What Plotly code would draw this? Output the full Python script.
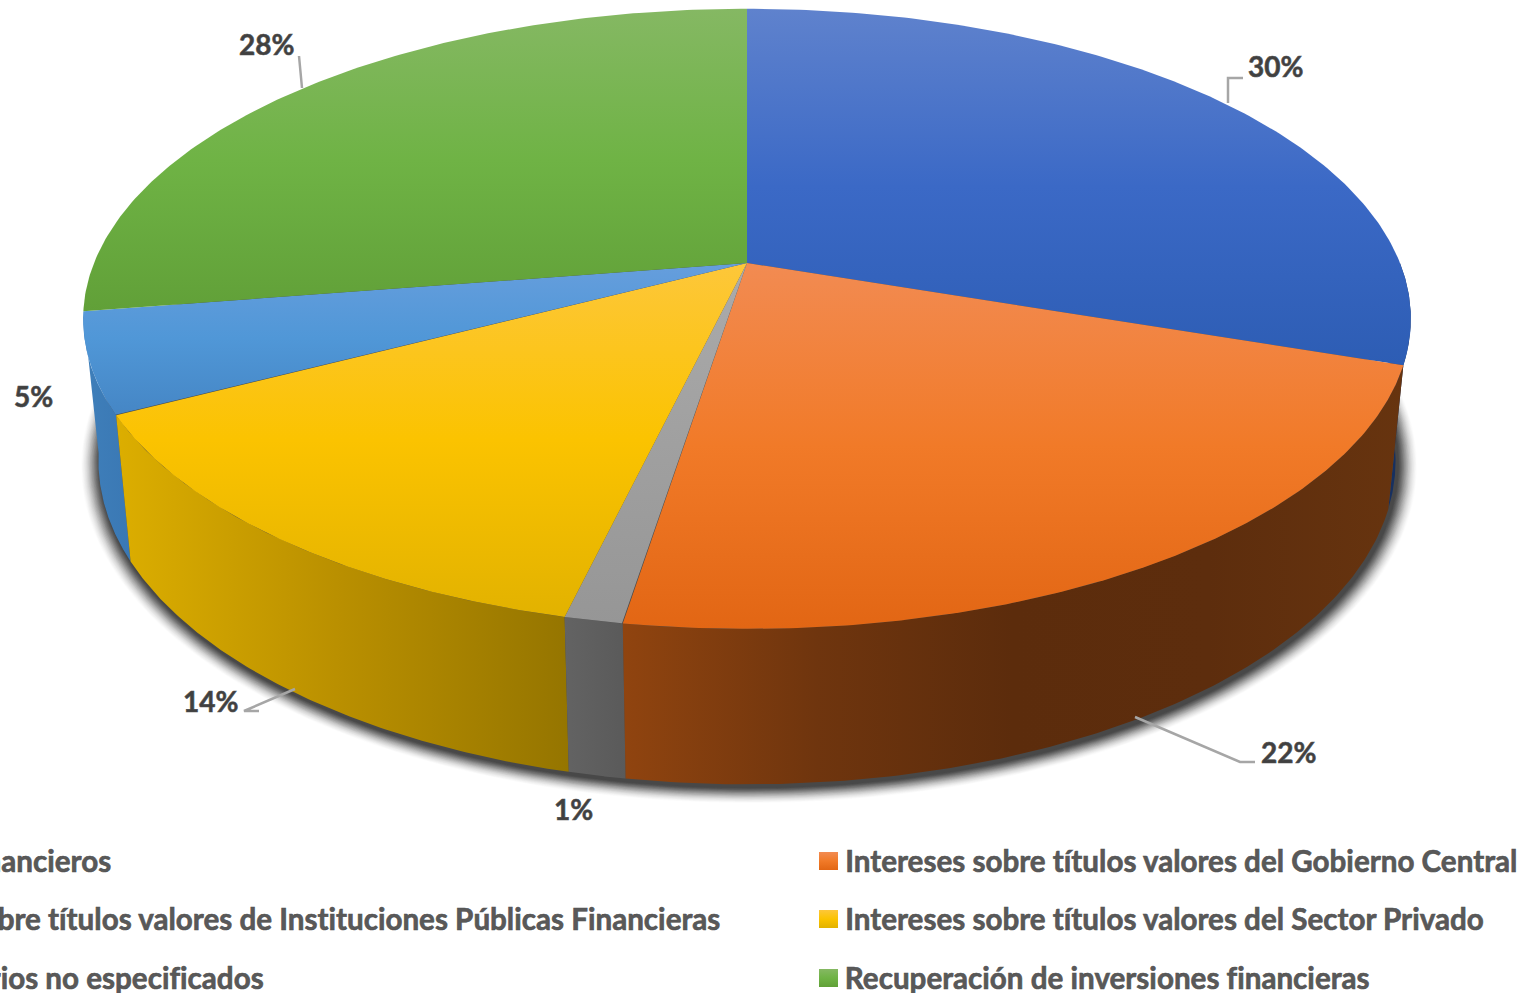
import numpy as np
import plotly.graph_objects as go

categories = [
    "Intereses por depósitos financieros",
    "Intereses sobre títulos valores del Gobierno Central",
    "Intereses sobre títulos valores de Instituciones Públicas Financieras",
    "Intereses sobre títulos valores del Sector Privado",
    "Ingresos financieros varios no especificados",
    "Recuperación de inversiones financieras",
]
values = [30.2, 22.3, 1.2, 13.6, 5.2, 27.5]
top_scales = [
    ["#5f82cd", "#3b69c6", "#2d5db4"],
    ["#f28b52", "#f17a28", "#e26614"],
    ["#ababab", "#a0a0a0", "#969696"],
    ["#fdc73a", "#fbc300", "#e2b200"],
    ["#669edd", "#5097d7", "#4586c5"],
    ["#85b863", "#6fb345", "#61a038"],
]
wall_scales = [
    ["#17305f", "#17305f"],
    ["#90440f", "#6f350e", "#5c2c0c", "#5d2d0d", "#67340f"],
    ["#636363", "#5a5a5a"],
    ["#dcae00", "#b98f00", "#957500"],
    ["#3f7fba", "#3a78b4"],
]
label_xy = [(1275, 66), (1288, 752), (573, 809), (210, 701), (33, 396), (266, 44)]
leaders = [
    ([1228, 1228, 1243], [103, 78, 78]),
    ([1135, 1240, 1255], [717, 762, 762]),
    ([259, 244, 295], [711, 711, 689]),
    ([302, 299], [88, 56]),
]

CX, Y0, A, B, K = 747.0, 263.0, 653.0, 300.0, 0.18
A2, Y2, B2 = 638.0, 402.6, 313.0


def rim(theta, a, y0, b):
    s, c = np.sin(theta), np.cos(theta)
    d = 1 + K * c
    return CX + a * s / d, y0 - b * c / d


def scale(colors):
    return [[i / (len(colors) - 1), col] for i, col in enumerate(colors)]


fig = go.Figure()


def poly(x, y, colors=None, kind="vertical", flat=None):
    kw = dict(fillcolor=flat) if flat else dict(
        fillgradient=dict(type=kind, colorscale=scale(colors)))
    fig.add_trace(go.Scatter(x=list(x) + [x[0]], y=list(y) + [y[0]], mode="lines",
                             line=dict(width=0), fill="toself", hoverinfo="skip",
                             showlegend=False, **kw))


# soft shadow beneath the disc: many faint layers, denser toward the wall
full = np.linspace(0, 2 * np.pi, 361)
layers = 28
for n in range(layers):
    f = 1 - n / (layers - 1)
    grow = 1 + 18 * f
    alpha = 0.012 + 0.11 * (1 - f) ** 1.6
    sx, sy = rim(full, A2 + grow, Y2 + 3, B2 + grow * 0.68)
    poly(sx + 2, sy, flat=f"rgba(30,30,30,{alpha:.3f})")

edges = 2 * np.pi * np.concatenate([[0], np.cumsum(values)]) / sum(values)

# walls, back to front (the last slice's wall lies behind the front of the disc)
for i in [0, 4, 3, 2, 1]:
    lo, hi = max(edges[i], np.pi / 2), min(edges[i + 1], 3 * np.pi / 2)
    t = np.linspace(lo, hi, 120)
    tx, ty = rim(t, A, Y0, B)
    bx, by = rim(t[::-1], A2, Y2, B2)
    poly(np.r_[tx, bx], np.r_[ty, by], wall_scales[i], "horizontal")

# top faces
for i in range(len(values)):
    t = np.linspace(edges[i], edges[i + 1], 160)
    tx, ty = rim(t, A, Y0, B)
    poly(np.r_[CX, tx], np.r_[Y0, ty], top_scales[i][::-1], "vertical")

for lx, ly in leaders:
    fig.add_trace(go.Scatter(x=lx, y=ly, mode="lines", hoverinfo="skip", showlegend=False,
                             line=dict(color="#a6a6a6", width=2.5)))

for v, (x, y) in zip(values, label_xy):
    fig.add_annotation(x=x, y=y, text=f"{round(v)}%", showarrow=False, xanchor="center",
                       yanchor="middle",
                       font=dict(family="Lato", size=28, color="#404040", weight=700))

rows = [860, 918, 977]
LEG = dict(family="Lato", size=29.6, color="#595959", weight=700)
for j, y in enumerate(rows):
    fig.add_annotation(x=842.5, y=y, text=categories[2 * j + 1], showarrow=False, xanchor="left",
                       yanchor="middle", font=LEG)
    fig.add_annotation(x=[113, 723, 265][j], y=y, text=categories[2 * j], showarrow=False,
                       xanchor="right", yanchor="middle", font=LEG)
    poly([819, 838, 838, 819], [y - 8, y - 8, y + 10, y + 10], top_scales[2 * j + 1][::-1], "vertical")

fig.update_layout(
    width=1521, height=993, margin=dict(l=0, r=0, t=0, b=0), autosize=False,
    paper_bgcolor="white", plot_bgcolor="white", showlegend=False,
    xaxis=dict(range=[0, 1521], visible=False, fixedrange=True),
    yaxis=dict(range=[993, 0], visible=False, fixedrange=True),
)
css = ("document.body.style.margin='0';document.body.style.overflow='hidden';"
       "var s=document.createElement('style');"
       "s.textContent='text{font-variant-ligatures:none;font-feature-settings:\"liga\" 0}"
       ".annotation-text{stroke:#505050;stroke-width:0.6px}';"
       "document.head.appendChild(s);")
fig.write_html("out.html", config=dict(displayModeBar=False), post_script=css)
